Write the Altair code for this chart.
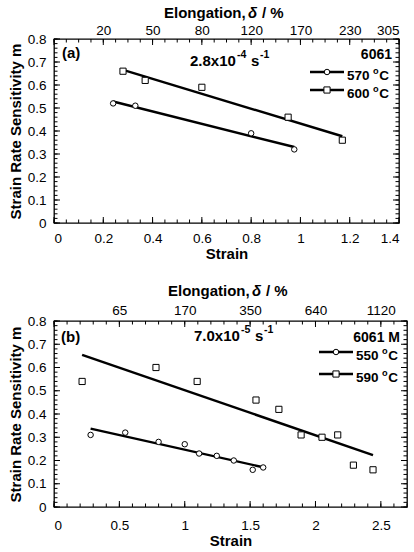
import altair as alt
import pandas as pd

FONT = "Liberation Sans"

# Panel (a): alloy 6061 tested at 2.8x10^-4 s^-1
a_strain_570 = [0.24, 0.33, 0.80, 0.975]
a_m_570 = [0.52, 0.51, 0.39, 0.32]
a_strain_600 = [0.28, 0.37, 0.60, 0.95, 1.17]
a_m_600 = [0.66, 0.62, 0.59, 0.46, 0.36]

# Panel (b): alloy 6061 M tested at 7.0x10^-5 s^-1
b_strain_550 = [0.28, 0.545, 0.80, 1.00, 1.11, 1.245, 1.375, 1.52, 1.60]
b_m_550 = [0.31, 0.32, 0.28, 0.27, 0.23, 0.22, 0.20, 0.16, 0.17]
b_strain_590 = [0.215, 0.78, 1.095, 1.545, 1.72, 1.89, 2.05, 2.17, 2.29, 2.44]
b_m_590 = [0.54, 0.60, 0.54, 0.46, 0.42, 0.31, 0.30, 0.31, 0.18, 0.16]

# Axis ticks and labels
a_x_major = [0, 0.2, 0.4, 0.6, 0.8, 1.0, 1.2, 1.4]
a_x_minor = [round(0.05 * i, 2) for i in range(29)]
b_x_major = [0, 0.5, 1.0, 1.5, 2.0, 2.5]
b_x_minor = [round(0.1 * i, 1) for i in range(28)]
y_major = [0, 0.1, 0.2, 0.3, 0.4, 0.5, 0.6, 0.7, 0.8]
y_minor = [round(0.02 * i, 2) for i in range(41)]

# Elongation (%) shown on the top axis at the corresponding true strain
a_top_ticks = [0.2, 0.4, 0.6, 0.8, 1.0, 1.2, 1.4]
a_top_labels = ["20", "50", "80", "120", "170", "230", "305"]
b_top_ticks = [0.5, 1.0, 1.5, 2.0, 2.5]
b_top_labels = ["65", "170", "350", "640", "1120"]


def js_list(items):
    return "[" + ",".join(repr(v) if isinstance(v, str) else str(v) for v in items) + "]"


def txt(s, x, y, size=15, weight="bold", align="left", style="normal"):
    return alt.Chart(pd.DataFrame({"k": [0]})).mark_text(
        text=s, font=FONT, fontSize=size, fontWeight=weight, fontStyle=style,
        align=align, baseline="alphabetic", color="black",
    ).encode(x=alt.value(x), y=alt.value(y))


def label_with_degree(num, x, y, size=13.5):
    # "<num> oC" with the small raised "o"
    w = len(num) * 0.556 * size
    return [
        txt(num, x, y, size),
        txt("o", x + w + 3.5, y - 6, size * 0.68),
        txt("C", x + w + 3.5 + 0.611 * size * 0.68 + 0.5, y, size),
    ]


def panel(series, xdom, x_major, x_minor, top_ticks, top_labels, W, H,
          xlab_pad, top_pad, title_y, title_x, tag, tag_pos, rate, rate_pos,
          alloy, alloy_pos, leg_x, leg_rows):
    frames = []
    for name, xs_, ms_, shape in series:
        frames.append(pd.DataFrame({"strain": xs_, "m": ms_, "series": name, "shape": shape}))
    df = pd.concat(frames, ignore_index=True)

    xs = alt.Scale(domain=xdom, nice=False, zero=False)
    ys = alt.Scale(domain=[0, 0.8], nice=False, zero=False)
    noax = dict(axis=None)

    x_axis = alt.Axis(orient="bottom", values=x_major, format="~g", labelPadding=xlab_pad,
                      title="Strain", titlePadding=2)
    y_axis = alt.Axis(orient="left", values=y_major, format="~g", labelPadding=8,
                      title="Strain Rate Sensitivity m", titlePadding=4)
    top_axis = alt.Axis(orient="top", values=top_ticks, labelPadding=top_pad, title=None,
                        labelExpr=f"{js_list(top_labels)}[indexof({js_list(top_ticks)}, datum.value)]")

    base = alt.Chart(df)
    fit = base.transform_regression("strain", "m", groupby=["series"]).mark_line(
        color="black", strokeWidth=2.4
    ).encode(
        x=alt.X("strain:Q", scale=xs, axis=x_axis),
        y=alt.Y("m:Q", scale=ys, axis=y_axis),
        detail="series:N",
    )
    top = base.mark_point(opacity=0).encode(
        x=alt.X("strain:Q", scale=xs, axis=top_axis),
        y=alt.Y("m:Q", scale=ys, axis=None),
    )
    pts = []
    for shape, size in (("circle", 30), ("square", 38)):
        pts.append(
            base.transform_filter(alt.datum.shape == shape).mark_point(
                shape=shape, size=size, filled=True, fill="white", stroke="black",
                strokeWidth=1, opacity=1,
            ).encode(
                x=alt.X("strain:Q", scale=xs, **noax),
                y=alt.Y("m:Q", scale=ys, **noax),
            )
        )

    ticks = []
    for vals, L in ((x_major, 6), (x_minor, 3.5)):
        c = alt.Chart(pd.DataFrame({"v": vals})).mark_rule(color="black", strokeWidth=1)
        ticks.append(c.encode(x=alt.X("v:Q", scale=xs, **noax), y=alt.value(H), y2=alt.value(H - L)))
        ticks.append(c.encode(x=alt.X("v:Q", scale=xs, **noax), y=alt.value(0), y2=alt.value(L)))
    for vals, L in ((y_major, 6), (y_minor, 3.5)):
        c = alt.Chart(pd.DataFrame({"v": vals})).mark_rule(color="black", strokeWidth=1)
        ticks.append(c.encode(y=alt.Y("v:Q", scale=ys, **noax), x=alt.value(0), x2=alt.value(L)))
        ticks.append(c.encode(y=alt.Y("v:Q", scale=ys, **noax), x=alt.value(W), x2=alt.value(W - L)))

    texts = [
        txt("Elongation, ", title_x, title_y),
        txt("\u03b4", title_x + 84, title_y, style="italic"),
        txt("/ %", title_x + 98, title_y),
        txt(tag, tag_pos[0], tag_pos[1]),
        txt(rate[0], rate_pos[0], rate_pos[1]),
        txt(rate[1], rate_pos[0] + 47, rate_pos[1] - 8, 10.5),
        txt("s", rate_pos[0] + 61, rate_pos[1]),
        txt(rate[2], rate_pos[0] + 70, rate_pos[1] - 8, 10.5),
        txt(alloy, alloy_pos[0], alloy_pos[1], 14, align="right"),
    ]

    legend = []
    for (name, _, _, shape), ly in zip(series, leg_rows):
        legend.append(
            alt.Chart(pd.DataFrame({"k": [0]})).mark_rule(color="black", strokeWidth=2.4).encode(
                x=alt.value(leg_x), x2=alt.value(leg_x + 34), y=alt.value(ly)
            )
        )
        legend.append(
            alt.Chart(pd.DataFrame({"k": [0]})).mark_point(
                shape=shape, size=30 if shape == "circle" else 38, filled=True, fill="white",
                stroke="black", strokeWidth=1, opacity=1,
            ).encode(x=alt.value(leg_x + 17), y=alt.value(ly))
        )
        legend.extend(label_with_degree(name, leg_x + 37, ly + 8))

    return alt.layer(top, fit, *pts, *ticks, *texts, *legend).resolve_axis(
        x="independent", y="independent"
    ).properties(width=W, height=H)


panel_a = panel(
    [("570", a_strain_570, a_m_570, "circle"), ("600", a_strain_600, a_m_600, "square")],
    [0, 1.4], a_x_major, a_x_minor, a_top_ticks, a_top_labels, 345, 184,
    xlab_pad=8, top_pad=2, title_y=-21, title_x=110,
    tag="(a)", tag_pos=(8, 19), rate=("2.8x10", "-4", "-1"), rate_pos=(136, 27),
    alloy="6061", alloy_pos=(338, 20), leg_x=256, leg_rows=[33, 51],
)

panel_b = panel(
    [("550", b_strain_550, b_m_550, "circle"), ("590", b_strain_590, b_m_590, "square")],
    [0, 2.7], b_x_major, b_x_minor, b_top_ticks, b_top_labels, 353, 186,
    xlab_pad=11, top_pad=4, title_y=-25, title_x=114,
    tag="(b)", tag_pos=(7, 21), rate=("7.0x10", "-5", "-1"), rate_pos=(140, 20),
    alloy="6061 M", alloy_pos=(346, 21), leg_x=265, leg_rows=[31, 53],
)

chart = alt.vconcat(panel_a, panel_b, spacing=20).properties(
    padding={"left": 7, "top": 5, "right": 0, "bottom": 0},
    background="white",
).configure_view(
    stroke="black", strokeWidth=1.3
).configure_axis(
    labelFont=FONT, labelFontSize=13.5, labelColor="black",
    titleFont=FONT, titleFontSize=15, titleFontWeight="bold", titleColor="black",
    ticks=False, tickSize=0, domain=False, grid=False,
)

chart.save("out.html", embed_options={"renderer": "svg", "actions": False})
